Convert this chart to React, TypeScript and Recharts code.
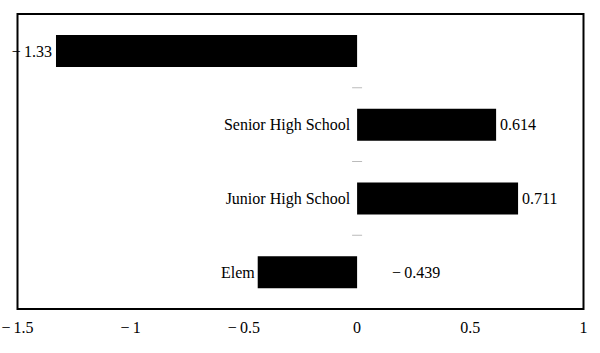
import React from 'react';
import { BarChart, Bar, XAxis, YAxis, ReferenceArea, ReferenceLine, LabelList } from 'recharts';

const categories = ['Preschool', 'Senior High School', 'Junior High School', 'Elem'];
const showCategoryLabel = [false, true, true, true];
const values = [-1.33, 0.614, 0.711, -0.439];
const xTicks = [-1.5, -1, -0.5, 0, 0.5, 1];
const xDomain: [number, number] = [-1.5, 1];

const data = categories.map((name, i) => ({ name, value: values[i], show: showCategoryLabel[i] }));

const FONT = '"Liberation Serif", "DejaVu Serif", serif';
const FS = 16;

const fmt = (v: number) => (v < 0 ? '\u2212\u2009' + String(Math.abs(v)) : String(v));

const BarShape = (props: any) => {
  const { x, y, width, height, payload } = props;
  const left = Math.min(x, x + width);
  const right = Math.max(x, x + width);
  const zero = x;
  const cy = y + height / 2;
  const v = payload.value as number;
  const labelX = v >= 0 ? zero - 7 : left - 3;
  return (
    <g>
      {payload.show ? (
        <text x={labelX} y={cy} textAnchor="end" dominantBaseline="central" fontFamily={FONT} fontSize={FS} fill="#000">
          {payload.name}
        </text>
      ) : null}
      <rect x={left} y={y} width={right - left} height={height} fill="#000" />
    </g>
  );
};

const ValueLabel = (props: any) => {
  const { x, y, width, height, value } = props;
  const v = Number(value);
  const left = Math.min(x, x + width);
  const right = Math.max(x, x + width);
  const cy = y + height / 2;
  let tx = right + 4;
  let anchor: 'start' | 'end' = 'start';
  if (v < 0) {
    if (Math.abs(v) > 1) {
      tx = left - 4;
      anchor = 'end';
    } else {
      tx = x + 35;
      anchor = 'start';
    }
  }
  return (
    <text x={tx} y={cy} textAnchor={anchor} dominantBaseline="central" fontFamily={FONT} fontSize={FS} fill="#000">
      {fmt(v)}
    </text>
  );
};

const XTick = (props: any) => {
  const { x, y, payload } = props;
  return (
    <text x={x} y={y} dy="0.71em" textAnchor="middle" fontFamily={FONT} fontSize={FS} fill="#000">
      {fmt(payload.value)}
    </text>
  );
};

// draws a short dash at the midpoint between two neighbouring category centres, on the zero line
const BoundaryDash = (props: any) => {
  const { x1, y1, x2, y2 } = props;
  if (x1 == null || y1 == null || y2 == null) return null;
  const my = (Number(y1) + Number(y2)) / 2;
  const mx = (Number(x1) + Number(x2)) / 2;
  return <line x1={mx - 5} x2={mx + 5} y1={my} y2={my} stroke="#bbbbbb" strokeWidth={1} />;
};

export default function App() {
  return (
    <div>
      <style>{'body{margin:0}'}</style>
      <BarChart
        width={600}
        height={353}
        data={data}
        layout="vertical"
        margin={{ top: 14, right: 16.5, bottom: 14, left: 17.5 }}
        barSize={32}
      >
        <XAxis
          type="number"
          domain={xDomain}
          ticks={xTicks}
          axisLine={false}
          tickLine={false}
          tickMargin={6.6}
          height={30}
          tick={<XTick />}
          allowDataOverflow
        />
        <YAxis type="category" dataKey="name" hide />
        <ReferenceArea x1={xDomain[0]} x2={xDomain[1]} fill="none" stroke="#000" strokeWidth={2} fillOpacity={0} />
        {categories.slice(1).map((c, i) => (
          <ReferenceLine
            key={c}
            segment={[
              { x: 0, y: categories[i] },
              { x: 0, y: c },
            ]}
            shape={<BoundaryDash />}
          />
        ))}
        <Bar dataKey="value" isAnimationActive={false} shape={<BarShape />}>
          <LabelList dataKey="value" content={<ValueLabel />} />
        </Bar>
      </BarChart>
    </div>
  );
}
